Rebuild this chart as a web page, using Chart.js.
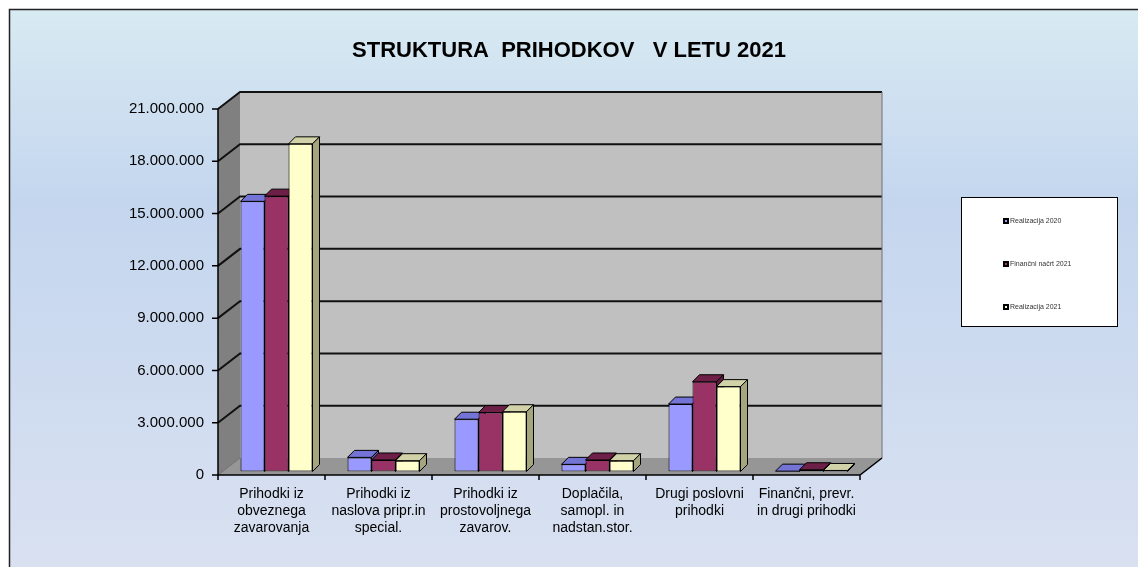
<!DOCTYPE html>
<html>
<head>
<meta charset="utf-8">
<title>Struktura prihodkov v letu 2021</title>
<script src="https://cdn.jsdelivr.net/npm/chart.js@4/dist/chart.umd.min.js"></script>
<style>
  html, body { margin: 0; padding: 0; background: #fff; }
  canvas { display: block; }
</style>
</head>
<body>
<canvas id="chart" width="1138" height="567"></canvas>
<script>
// Podatki
const categories = [
  ["Prihodki iz", "obveznega", "zavarovanja"],
  ["Prihodki iz", "naslova pripr.in", "special."],
  ["Prihodki iz", "prostovoljnega", "zavarov."],
  ["Doplačila,", "samopl. in", "nadstan.stor."],
  ["Drugi poslovni", "prihodki"],
  ["Finančni, prevr.", "in drugi prihodki"],
];
const seriesNames = ["Realizacija 2020", "Finančni načrt 2021", "Realizacija 2021"];
const real2020 = [15500000, 810000, 3000000, 410000, 3870000, 20000];
const plan2021 = [15800000, 660000, 3380000, 660000, 5150000, 100000];
const real2021 = [18800000, 620000, 3430000, 620000, 4870000, 60000];
const yMax = 21000000;
const yStep = 3000000;

// Barve
const fronts = ["#9999ff", "#993366", "#ffffcc"];
const tops = ["#7474d6", "#6e1f47", "#d2d2a8"];
const sides = ["#6666b0", "#5c1a3c", "#a6a67e"];

// Utilitarne
function dots(n) {
  return String(n).replace(/\B(?=(\d{3})+(?!\d))/g, ".");
}

const FRONT = { dx: -5, dy: 3.5 };
const BACK = { dx: 17, dy: -13.5 };
const DEPTH = 7;

function poly(ctx, pts, fill, stroke) {
  ctx.beginPath();
  ctx.moveTo(pts[0][0], pts[0][1]);
  for (let i = 1; i < pts.length; i++) ctx.lineTo(pts[i][0], pts[i][1]);
  ctx.closePath();
  if (fill) {
    ctx.fillStyle = fill;
    ctx.fill();
  }
  if (stroke) {
    ctx.strokeStyle = stroke;
    ctx.lineWidth = 1;
    ctx.stroke();
  }
}

// Ozadje
const background = {
  id: "background",
  beforeDraw(chart) {
    const { ctx, width, height } = chart;
    ctx.save();
    ctx.fillStyle = "#ffffff";
    ctx.fillRect(0, 0, width, height);
    const g = ctx.createLinearGradient(0, 9, 0, height);
    g.addColorStop(0, "#d8eaf2");
    g.addColorStop(0.35, "#c4d6ee");
    g.addColorStop(1, "#d9e1f1");
    ctx.fillStyle = g;
    ctx.fillRect(9, 9, width, height);
    ctx.strokeStyle = "#222";
    ctx.lineWidth = 1.5;
    ctx.strokeRect(9.5, 9.5, width + 10, height + 10);
    ctx.restore();
  },
};

// 3D stene, mreža in stranice stolpcev
const frame3d = {
  id: "frame3d",
  beforeDatasetsDraw(chart) {
    const { ctx, chartArea: a } = chart;
    const y = chart.scales.y;
    const top = y.getPixelForValue(yMax);
    const bot = y.getPixelForValue(0);
    const fl = a.left + FRONT.dx, fr = a.right + FRONT.dx;
    const bl = a.left + BACK.dx, br = a.right + BACK.dx;
    ctx.save();

    // zadnja stena
    poly(ctx, [[bl, top + BACK.dy], [br, top + BACK.dy], [br, bot + BACK.dy], [bl, bot + BACK.dy]], "#c0c0c0");
    // leva stena
    poly(ctx, [[fl, top + FRONT.dy], [bl, top + BACK.dy], [bl, bot + BACK.dy], [fl, bot + FRONT.dy]], "#808080");
    // tla
    poly(ctx, [[fl, bot + FRONT.dy], [fr, bot + FRONT.dy], [br, bot + BACK.dy], [bl, bot + BACK.dy]], "#969696");

    // mreža
    ctx.strokeStyle = "#111";
    ctx.lineWidth = 2;
    for (let v = yStep; v <= yMax; v += yStep) {
      const p = y.getPixelForValue(v);
      ctx.beginPath();
      ctx.moveTo(fl, p + FRONT.dy);
      ctx.lineTo(bl, p + BACK.dy);
      ctx.lineTo(br, p + BACK.dy);
      ctx.stroke();
    }
    ctx.lineWidth = 1;
    ctx.strokeStyle = "#707070";
    ctx.beginPath();
    ctx.moveTo(fl, bot + FRONT.dy);
    ctx.lineTo(bl, bot + BACK.dy);
    ctx.moveTo(br, top + BACK.dy);
    ctx.lineTo(br, bot + BACK.dy);
    ctx.stroke();

    // osi
    ctx.strokeStyle = "#000";
    ctx.lineWidth = 1.5;
    ctx.beginPath();
    ctx.moveTo(fl, top + FRONT.dy);
    ctx.lineTo(fl, bot + FRONT.dy);
    ctx.lineTo(fr, bot + FRONT.dy);
    ctx.lineTo(br, bot + BACK.dy);
    for (let v = 0; v <= yMax; v += yStep) {
      const p = y.getPixelForValue(v) + FRONT.dy;
      ctx.moveTo(fl - 6, p);
      ctx.lineTo(fl, p);
    }
    const n = categories.length;
    for (let i = 0; i <= n; i++) {
      const x = fl + (i * (fr - fl)) / n;
      ctx.moveTo(x, bot + FRONT.dy);
      ctx.lineTo(x, bot + FRONT.dy + 5);
    }
    ctx.stroke();

    // vrhnje in stranske ploskve stolpcev
    for (let i = 0; i < n; i++) {
      chart.data.datasets.forEach((ds, d) => {
        const el = chart.getDatasetMeta(d).data[i];
        const { x, y: t, base, width } = el.getProps(["x", "y", "base", "width"], true);
        const l = x - width / 2, r = x + width / 2;
        poly(ctx, [[l, t], [r, t], [r + DEPTH, t - DEPTH], [l + DEPTH, t - DEPTH]], tops[d], "#000");
        poly(ctx, [[r, t], [r + DEPTH, t - DEPTH], [r + DEPTH, base - DEPTH], [r, base]], sides[d], "#000");
      });
    }
    ctx.restore();
  },
  afterDraw(chart) {
    // legenda
    const { ctx } = chart;
    ctx.save();
    ctx.fillStyle = "#fff";
    ctx.fillRect(962, 198, 155, 128);
    ctx.strokeStyle = "#000";
    ctx.lineWidth = 1;
    ctx.strokeRect(961.5, 197.5, 156, 129);
    ctx.font = "7px 'Liberation Sans', Arial, sans-serif";
    ctx.textBaseline = "middle";
    const ys = [221, 264, 307];
    chart.data.datasets.forEach((ds, d) => {
      ctx.fillStyle = "#000";
      ctx.fillRect(1003, ys[d] - 3, 6, 6);
      ctx.fillStyle = fronts[d];
      ctx.fillRect(1005, ys[d] - 1, 2, 2);
      ctx.fillStyle = "#333";
      ctx.fillText(ds.label, 1010, ys[d]);
    });
    ctx.restore();
  },
};

const datasets = [real2020, plan2021, real2021].map((data, d) => ({
  label: seriesNames[d],
  data: data,
  backgroundColor: fronts[d],
  borderColor: "#000",
  borderWidth: 1,
  borderSkipped: false,
  categoryPercentage: 0.673,
  barPercentage: 1,
}));

new Chart(document.getElementById("chart"), {
  type: "bar",
  data: { labels: categories, datasets: datasets },
  plugins: [background, frame3d],
  options: {
    responsive: false,
    animation: false,
    devicePixelRatio: 1,
    layout: { padding: 0 },
    plugins: {
      legend: { display: false },
      tooltip: { enabled: false },
      title: {
        display: true,
        text: "STRUKTURA  PRIHODKOV   V LETU 2021",
        color: "#000",
        font: { family: "'Liberation Sans', Arial, sans-serif", size: 22, weight: "bold" },
        padding: { top: 38, bottom: 41.1 },
      },
    },
    scales: {
      x: {
        grid: { display: false, drawTicks: false },
        border: { display: false },
        ticks: {
          color: "#000",
          font: { family: "'Liberation Sans', Arial, sans-serif", size: 14, lineHeight: 1.22 },
          padding: 14,
          labelOffset: -5,
          maxRotation: 0,
          autoSkip: false,
        },
        afterFit(s) {
          s.height = 95.5;
        },
      },
      y: {
        min: 0,
        max: yMax,
        grid: { display: false, drawTicks: false },
        border: { display: false },
        ticks: {
          stepSize: yStep,
          color: "#000",
          font: { family: "'Liberation Sans', Arial, sans-serif", size: 15 },
          padding: 19,
          labelOffset: 3.5,
          callback: (v) => dots(v),
        },
        afterFit(s) {
          s.width = 223;
        },
      },
      // prazen prostor desno za legendo
      right: {
        type: "linear",
        position: "right",
        grid: { display: false, drawTicks: false },
        border: { display: false },
        ticks: { display: false },
        afterFit(s) {
          s.width = 273;
        },
      },
    },
  },
});
</script>
</body>
</html>
